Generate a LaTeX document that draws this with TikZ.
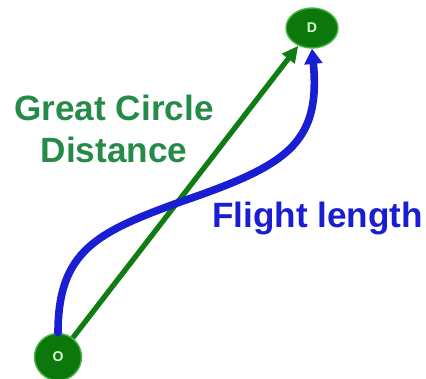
\documentclass[tikz,border=0pt]{standalone}
\usepackage{fontspec}
\setmainfont{Liberation Sans}
\usetikzlibrary{arrows.meta, shapes.geometric}

\definecolor{nodegreen}{RGB}{12,120,12}
\definecolor{rimgreen}{RGB}{70,180,70}
\definecolor{textgreen}{RGB}{38,138,72}
\definecolor{linegreen}{RGB}{15,125,20}
\definecolor{flightblue}{RGB}{25,30,210}

\tikzset{
    airport/.style={fill=nodegreen, draw=rimgreen, line width=1.2pt, inner sep=0pt,
        text=green!15, font=\fontsize{12}{12}\selectfont\bfseries},
    bigtext/.style={font=\fontsize{30}{35.5}\selectfont\bfseries}
}

\begin{document}
\begin{tikzpicture}[x=0.03cm, y=-0.03cm]
    \useasboundingbox (0,0) rectangle (426,378);

    % Airports
    \node[airport, circle, minimum size=47*0.03cm] (O) at (58,357) {O};
    \node[airport, ellipse, minimum width=52*0.03cm, minimum height=40*0.03cm] (D) at (312,28) {D};

    % Great circle route (straight)
    \draw[linegreen, line width=4.5pt, -{Triangle[length=14pt, width=13pt]}] (O) -- (D);

    % Actual flight path
    \draw[flightblue, line width=6.5pt, line cap=round, -{Triangle[length=13pt, width=15pt]}]
        (O.north) .. controls (58,250) and (98,232) .. (180,202)
        .. controls (285,166) and (321,145) .. (D.south);

    % Labels
    \node[bigtext, textgreen, align=center] (gcd) at (114,129) {Great Circle\\Distance};
    \node[bigtext, flightblue, anchor=base west, inner sep=0pt] (fl) at (212,227) {Flight length};
\end{tikzpicture}
\end{document}
